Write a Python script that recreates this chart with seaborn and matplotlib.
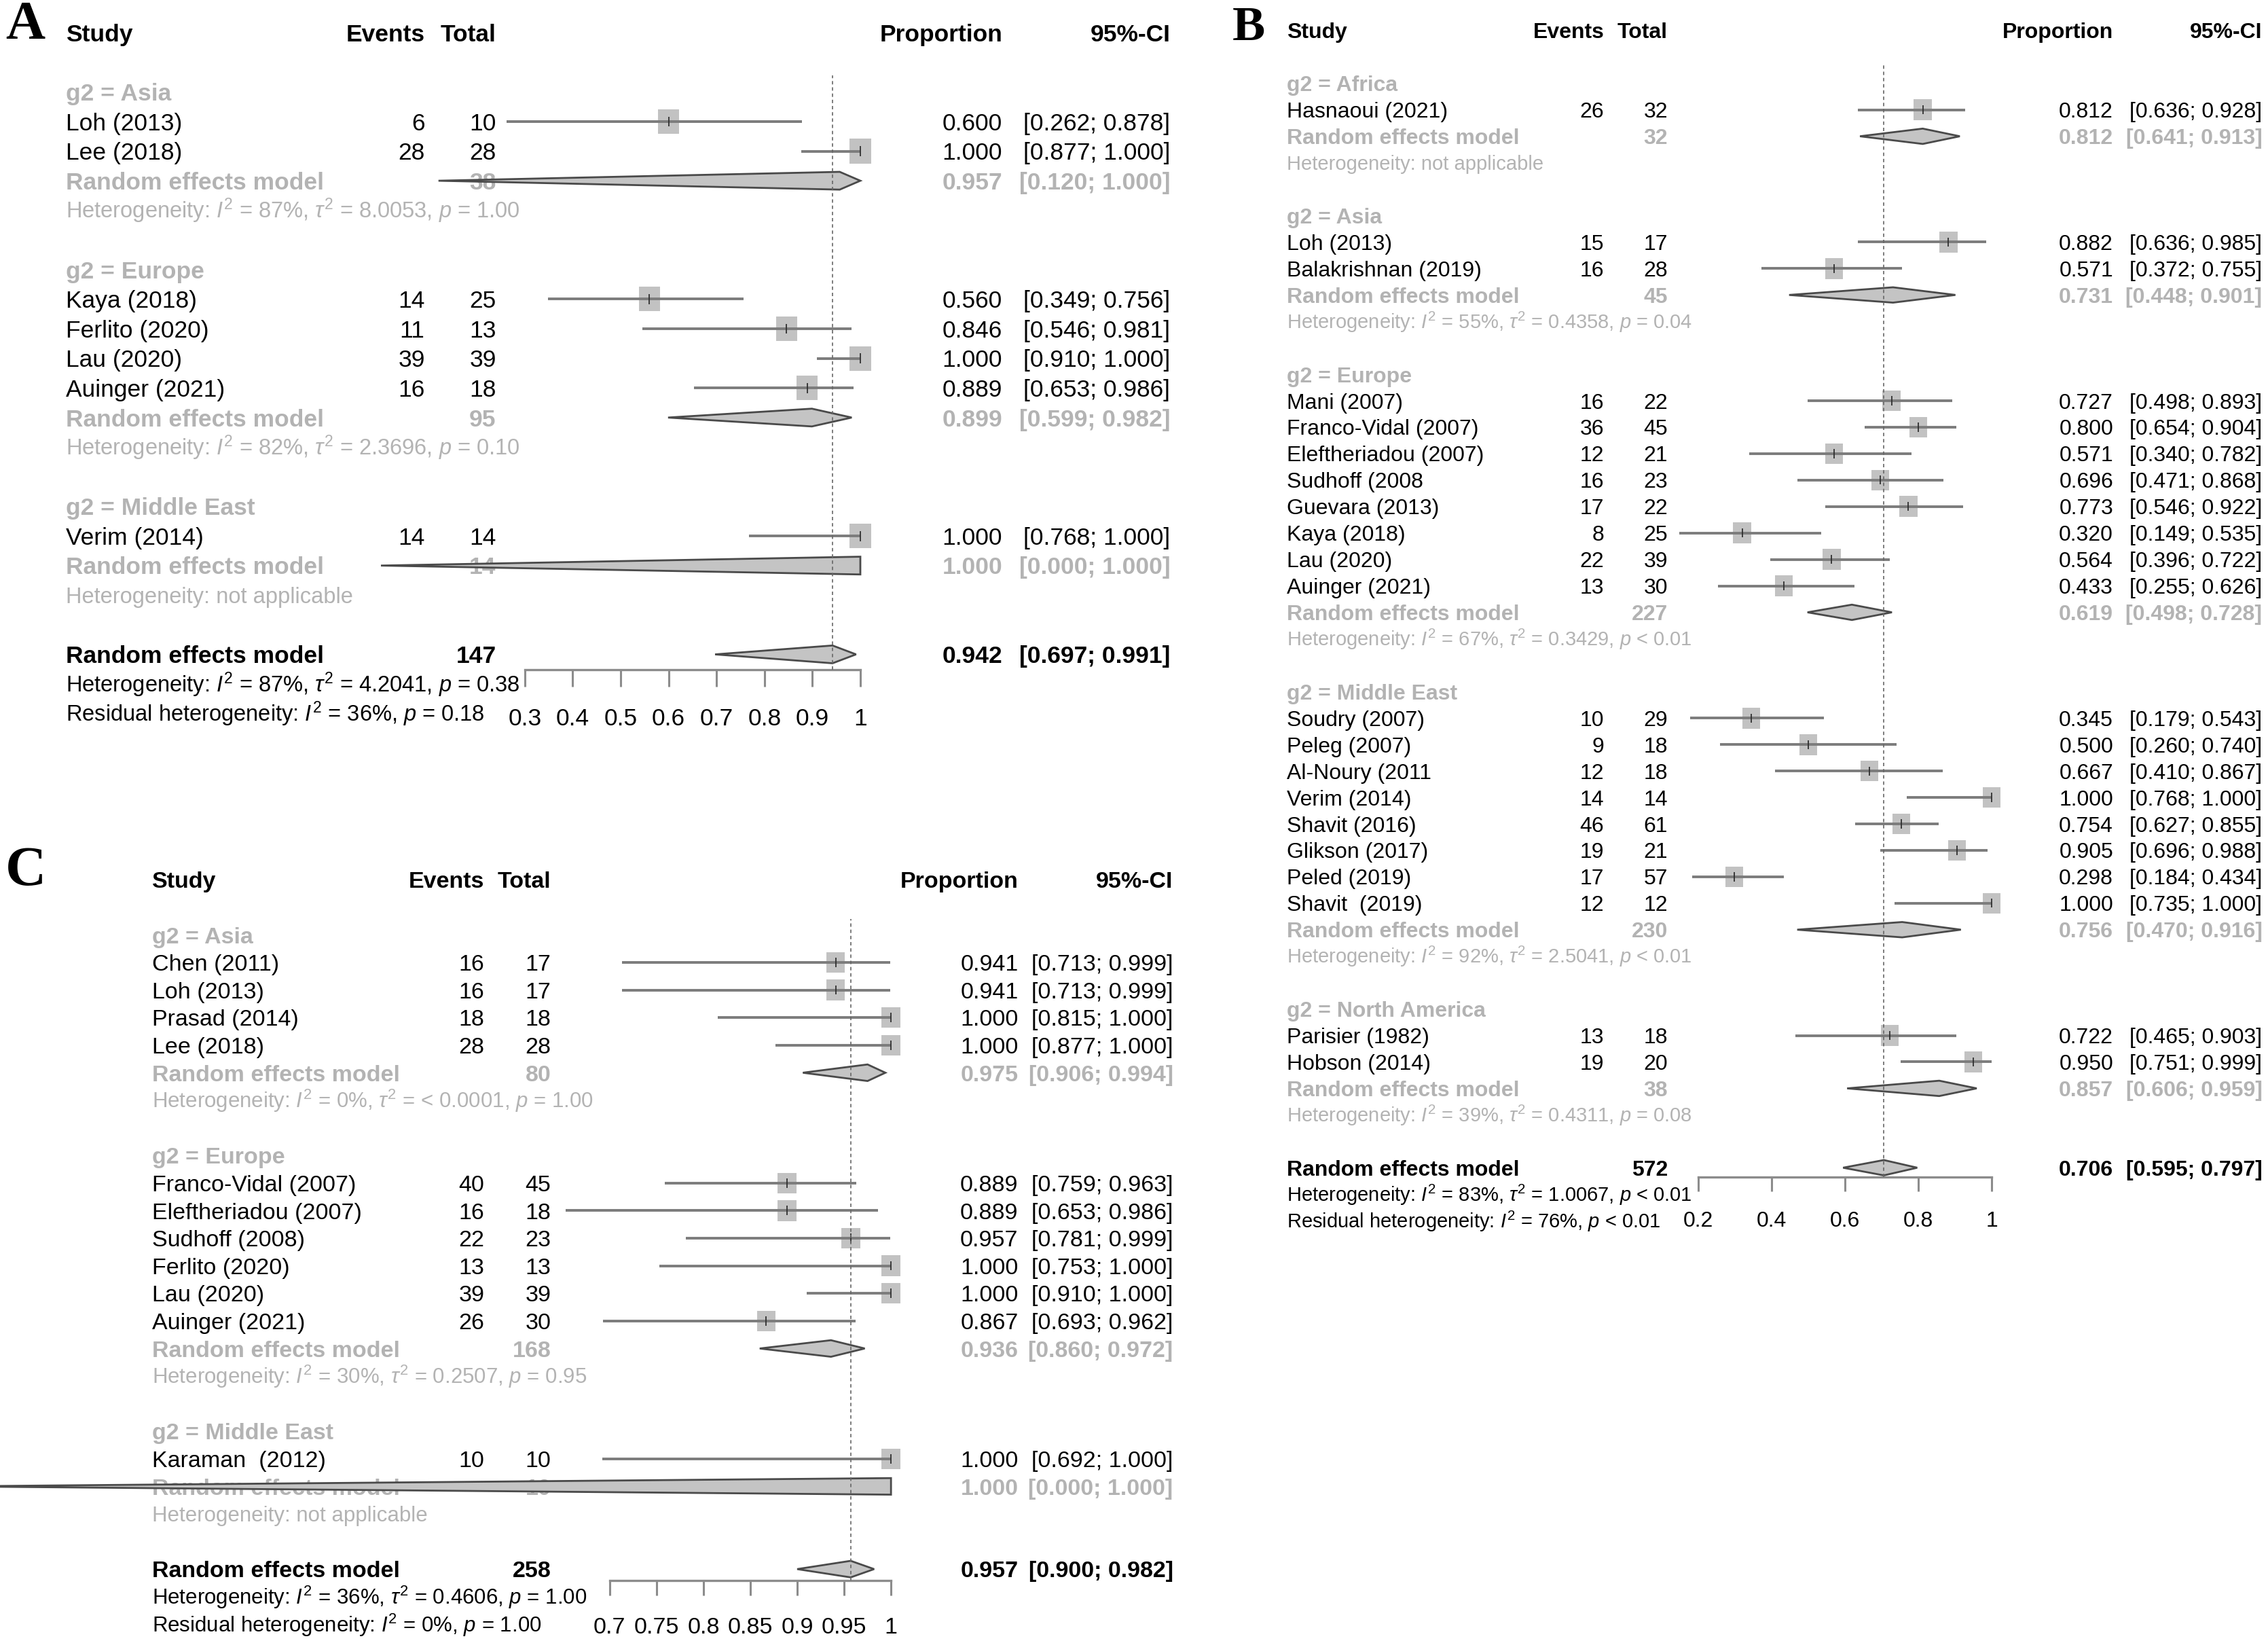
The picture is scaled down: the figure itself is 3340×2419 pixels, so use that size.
import numpy as np
import pandas as pd
import matplotlib
matplotlib.use("Agg")
import matplotlib.pyplot as plt
import seaborn as sns
from matplotlib import transforms
from matplotlib.patches import Polygon
from matplotlib.markers import MarkerStyle

# ====================== DATA: panel A ======================
A_groups = ["Asia", "Europe", "Middle East"]
A_study = ["Loh (2013)", "Lee (2018)", "Kaya (2018)", "Ferlito (2020)", "Lau (2020)",
           "Auinger (2021)", "Verim (2014)"]
A_group = ["Asia", "Asia", "Europe", "Europe", "Europe", "Europe", "Middle East"]
A_events = [6, 28, 14, 11, 39, 16, 14]
A_total = [10, 28, 25, 13, 39, 18, 14]
A_prop = [0.600, 1.000, 0.560, 0.846, 1.000, 0.889, 1.000]
A_lower = [0.262, 0.877, 0.349, 0.546, 0.910, 0.653, 0.768]
A_upper = [0.878, 1.000, 0.756, 0.981, 1.000, 0.986, 1.000]
A_sub_n = [38, 95, 14]
A_sub_prop = [0.957, 0.899, 1.000]
A_sub_lower = [0.120, 0.599, 0.000]
A_sub_upper = [1.000, 0.982, 1.000]
A_sub_het = ["$I^2$ = 87%, $\\tau^2$ = 8.0053, $p$ = 1.00",
             "$I^2$ = 82%, $\\tau^2$ = 2.3696, $p$ = 0.10",
             "not applicable"]
A_all_n = 147
A_all = [0.942, 0.697, 0.991]
A_het = "$I^2$ = 87%, $\\tau^2$ = 4.2041, $p$ = 0.38"
A_resid = "$I^2$ = 36%, $p$ = 0.18"
A_ticks = [0.3, 0.4, 0.5, 0.6, 0.7, 0.8, 0.9, 1.0]
A_ticklabels = ["0.3", "0.4", "0.5", "0.6", "0.7", "0.8", "0.9", "1"]

# ====================== DATA: panel B ======================
B_groups = ["Africa", "Asia", "Europe", "Middle East", "North America"]
B_study = ["Hasnaoui (2021)",
           "Loh (2013)", "Balakrishnan (2019)",
           "Mani (2007)", "Franco-Vidal (2007)", "Eleftheriadou (2007)", "Sudhoff (2008",
           "Guevara (2013)", "Kaya (2018)", "Lau (2020)", "Auinger (2021)",
           "Soudry (2007)", "Peleg (2007)", "Al-Noury (2011", "Verim (2014)",
           "Shavit (2016)", "Glikson (2017)", "Peled (2019)", "Shavit  (2019)",
           "Parisier (1982)", "Hobson (2014)"]
B_group = ["Africa", "Asia", "Asia"] + ["Europe"] * 8 + ["Middle East"] * 8 + ["North America"] * 2
B_events = [26, 15, 16, 16, 36, 12, 16, 17, 8, 22, 13, 10, 9, 12, 14, 46, 19, 17, 12, 13, 19]
B_total = [32, 17, 28, 22, 45, 21, 23, 22, 25, 39, 30, 29, 18, 18, 14, 61, 21, 57, 12, 18, 20]
B_prop = [0.812, 0.882, 0.571, 0.727, 0.800, 0.571, 0.696, 0.773, 0.320, 0.564, 0.433,
          0.345, 0.500, 0.667, 1.000, 0.754, 0.905, 0.298, 1.000, 0.722, 0.950]
B_lower = [0.636, 0.636, 0.372, 0.498, 0.654, 0.340, 0.471, 0.546, 0.149, 0.396, 0.255,
           0.179, 0.260, 0.410, 0.768, 0.627, 0.696, 0.184, 0.735, 0.465, 0.751]
B_upper = [0.928, 0.985, 0.755, 0.893, 0.904, 0.782, 0.868, 0.922, 0.535, 0.722, 0.626,
           0.543, 0.740, 0.867, 1.000, 0.855, 0.988, 0.434, 1.000, 0.903, 0.999]
B_sub_n = [32, 45, 227, 230, 38]
B_sub_prop = [0.812, 0.731, 0.619, 0.756, 0.857]
B_sub_lower = [0.641, 0.448, 0.498, 0.470, 0.606]
B_sub_upper = [0.913, 0.901, 0.728, 0.916, 0.959]
B_sub_het = ["not applicable",
             "$I^2$ = 55%, $\\tau^2$ = 0.4358, $p$ = 0.04",
             "$I^2$ = 67%, $\\tau^2$ = 0.3429, $p$ < 0.01",
             "$I^2$ = 92%, $\\tau^2$ = 2.5041, $p$ < 0.01",
             "$I^2$ = 39%, $\\tau^2$ = 0.4311, $p$ = 0.08"]
B_all_n = 572
B_all = [0.706, 0.595, 0.797]
B_het = "$I^2$ = 83%, $\\tau^2$ = 1.0067, $p$ < 0.01"
B_resid = "$I^2$ = 76%, $p$ < 0.01"
B_ticks = [0.2, 0.4, 0.6, 0.8, 1.0]
B_ticklabels = ["0.2", "0.4", "0.6", "0.8", "1"]

# ====================== DATA: panel C ======================
C_groups = ["Asia", "Europe", "Middle East"]
C_study = ["Chen (2011)", "Loh (2013)", "Prasad (2014)", "Lee (2018)",
           "Franco-Vidal (2007)", "Eleftheriadou (2007)", "Sudhoff (2008)", "Ferlito (2020)",
           "Lau (2020)", "Auinger (2021)", "Karaman  (2012)"]
C_group = ["Asia"] * 4 + ["Europe"] * 6 + ["Middle East"]
C_events = [16, 16, 18, 28, 40, 16, 22, 13, 39, 26, 10]
C_total = [17, 17, 18, 28, 45, 18, 23, 13, 39, 30, 10]
C_prop = [0.941, 0.941, 1.000, 1.000, 0.889, 0.889, 0.957, 1.000, 1.000, 0.867, 1.000]
C_lower = [0.713, 0.713, 0.815, 0.877, 0.759, 0.653, 0.781, 0.753, 0.910, 0.693, 0.692]
C_upper = [0.999, 0.999, 1.000, 1.000, 0.963, 0.986, 0.999, 1.000, 1.000, 0.962, 1.000]
C_sub_n = [80, 168, 10]
C_sub_prop = [0.975, 0.936, 1.000]
C_sub_lower = [0.906, 0.860, 0.000]
C_sub_upper = [0.994, 0.972, 1.000]
C_sub_het = ["$I^2$ = 0%, $\\tau^2$ = < 0.0001, $p$ = 1.00",
             "$I^2$ = 30%, $\\tau^2$ = 0.2507, $p$ = 0.95",
             "not applicable"]
C_all_n = 258
C_all = [0.957, 0.900, 0.982]
C_het = "$I^2$ = 36%, $\\tau^2$ = 0.4606, $p$ = 1.00"
C_resid = "$I^2$ = 0%, $p$ = 1.00"
C_ticks = [0.70, 0.75, 0.80, 0.85, 0.90, 0.95, 1.00]
C_ticklabels = ["0.7", "0.75", "0.8", "0.85", "0.9", "0.95", "1"]

# ====================== STYLE ======================
sns.set_theme(style="white")
plt.rcParams['font.family'] = ['Liberation Sans', 'DejaVu Sans']
plt.rcParams['mathtext.fontset'] = 'custom'
plt.rcParams['mathtext.rm'] = 'Liberation Sans'
plt.rcParams['mathtext.it'] = 'Liberation Sans:italic'
plt.rcParams['mathtext.bf'] = 'Liberation Sans:bold'

GRAY_TXT = '#b3b3b3'
SQ_COL = '#c2c2c2'
CI_COL = '#7c7c7c'
DIA_FILL = '#c4c4c4'
DIA_EDGE = '#4a4a4a'
AX_COL = '#8c8c8c'

W_REF, H_REF = 1568.0, 1135.0

fig = plt.figure(figsize=(33.4, 24.19), dpi=100)
fig.patch.set_facecolor('white')


def fx(x):
    return x / W_REF


def fy(y):
    return 1.0 - y / H_REF


def draw_panel(P, D):
    ax_l, ax_r = fx(P['ax_left']), fx(P['ax_right'])
    ax_b, ax_t = fy(P['ax_bottom']), fy(P['ax_top'])
    ax = fig.add_axes([ax_l, ax_b, ax_r - ax_l, ax_t - ax_b])
    ax.patch.set_alpha(0)

    blend = transforms.blended_transform_factory(fig.transFigure, ax.transData)

    def txt(x, r, s, ha='left', fs=None, color='black', weight='normal'):
        fs = fs or P['fs']
        tr = transforms.offset_copy(blend, fig=fig, x=0, y=-0.36 * fs, units='points')
        ax.text(fx(x), r, s, transform=tr, ha=ha, va='baseline', fontsize=fs,
                color=color, fontweight=weight, zorder=3, clip_on=False)

    # headers
    hr = -2
    txt(P['study_x'], hr, "Study", weight='bold')
    txt(P['ev_r'], hr, "Events", ha='right', weight='bold')
    txt(P['tot_r'], hr, "Total", ha='right', weight='bold')
    txt(P['prop_r'], hr, "Proportion", ha='right', weight='bold')
    txt(P['ci_r'], hr, "95%-CI", ha='right', weight='bold')

    # build row layout
    df = pd.DataFrame({'study': D['study'], 'group': D['group'], 'events': D['events'],
                       'total': D['total'], 'prop': D['prop'], 'lower': D['lower'],
                       'upper': D['upper']})
    df['row'] = np.nan
    sub_rows = []
    r = 0
    for gi, g in enumerate(D['groups']):
        txt(P['study_x'], r, "g2 = " + g, color=GRAY_TXT, weight='bold')
        r += 1
        for idx in df.index[df['group'] == g]:
            df.loc[idx, 'row'] = r
            r += 1
        sub_rows.append(r)
        r += 1
        txt(P['study_x'], r, "Heterogeneity: " + D['sub_het'][gi], fs=P['fs_het'], color=GRAY_TXT)
        r += 2
    overall_row = r

    # study texts
    for _, s in df.iterrows():
        txt(P['study_x'], s['row'], s['study'])
        txt(P['ev_r'], s['row'], str(s['events']), ha='right')
        txt(P['tot_r'], s['row'], str(s['total']), ha='right')
        txt(P['prop_r'], s['row'], f"{s['prop']:.3f}", ha='right')
        txt(P['ci_r'], s['row'], f"[{s['lower']:.3f}; {s['upper']:.3f}]", ha='right')

    # squares
    rt = P['sq_ratio']
    verts = [(-rt, -1), (rt, -1), (rt, 1), (-rt, 1), (-rt, -1)]
    sns.scatterplot(data=df, x='prop', y='row', marker=MarkerStyle(verts), s=P['sq'] ** 2,
                    color=SQ_COL, edgecolor='none', linewidth=0, ax=ax, legend=False,
                    zorder=2.5, clip_on=False)
    # CI lines + estimate tick
    ax.hlines(df['row'], df['lower'], df['upper'], colors=CI_COL, lw=2.8, zorder=3.5,
              clip_on=False)
    ax.vlines(df['prop'], df['row'] - 0.17, df['row'] + 0.17, colors='#303030', lw=1.3,
              zorder=3.6, clip_on=False)

    dh = P['dh']

    def diamond(row, est, lo, hi):
        poly = Polygon([(lo, row), (est, row - dh), (hi, row), (est, row + dh)], closed=True,
                       facecolor=DIA_FILL, edgecolor=DIA_EDGE, lw=2.0, zorder=4, clip_on=False)
        ax.add_patch(poly)

    # subgroup random-effects rows
    for gi, rr in enumerate(sub_rows):
        txt(P['study_x'], rr, "Random effects model", color=GRAY_TXT, weight='bold')
        txt(P['tot_r'], rr, str(D['sub_n'][gi]), ha='right', color=GRAY_TXT, weight='bold')
        txt(P['prop_r'], rr, f"{D['sub_prop'][gi]:.3f}", ha='right', color=GRAY_TXT, weight='bold')
        txt(P['ci_r'], rr, f"[{D['sub_lower'][gi]:.3f}; {D['sub_upper'][gi]:.3f}]", ha='right',
            color=GRAY_TXT, weight='bold')
        diamond(rr, D['sub_prop'][gi], D['sub_lower'][gi], D['sub_upper'][gi])

    # overall
    est, lo, hi = D['all']
    txt(P['study_x'], overall_row, "Random effects model", weight='bold')
    txt(P['tot_r'], overall_row, str(D['all_n']), ha='right', weight='bold')
    txt(P['prop_r'], overall_row, f"{est:.3f}", ha='right', weight='bold')
    txt(P['ci_r'], overall_row, f"[{lo:.3f}; {hi:.3f}]", ha='right', weight='bold')
    diamond(overall_row, est, lo, hi)
    txt(P['study_x'], overall_row + 1, "Heterogeneity: " + D['het'], fs=P['fs_het'])
    txt(P['study_x'], overall_row + 2, "Residual heterogeneity: " + D['resid'], fs=P['fs_het'])

    # reference line
    ax.axvline(est, color='#666666', lw=1.2, ls=(0, (3, 2.5)), zorder=5)

    # axes & limits
    ax.set_xlim(D['ticks'][0], D['ticks'][-1])
    ax.set_ylim((P['ax_bottom'] - P['row0']) / P['dy'], (P['ax_top'] - P['row0']) / P['dy'])
    ax.set_xticks(D['ticks'])
    ax.set_xticklabels(D['ticklabels'], fontsize=P['fs'])
    ax.set_yticks([])
    ax.set_xlabel('')
    ax.set_ylabel('')
    sns.despine(ax=ax, left=True, top=True, right=True)
    ax.spines['bottom'].set_color(AX_COL)
    ax.spines['bottom'].set_linewidth(2.4)
    ax.tick_params(axis='x', direction='out', length=P['tick_len'], width=2.2, color=AX_COL,
                   pad=P['tick_pad'], labelcolor='black', bottom=True)

    # panel letter
    fig.text(fx(P['letter_xy'][0]), fy(P['letter_xy'][1]), P['letter'],
             family=['Liberation Serif', 'DejaVu Serif'], fontweight='bold',
             fontsize=P['letter_fs'], ha='center', va='center', color='black')
    return ax


def pack(prefix):
    g = globals()
    return {k: g[prefix + '_' + k] for k in
            ['groups', 'study', 'group', 'events', 'total', 'prop', 'lower', 'upper',
             'sub_n', 'sub_prop', 'sub_lower', 'sub_upper', 'sub_het', 'all_n', 'all',
             'het', 'resid', 'ticks', 'ticklabels']}


PA = dict(row0=63.5, dy=20.45, ax_left=362.8, ax_right=594.8, ax_top=52, ax_bottom=462.4,
          study_x=45.5, ev_r=293.7, tot_r=343, prop_r=693, ci_r=809,
          fs=25.5, fs_het=23.5, sq=26, sq_ratio=0.86, dh=0.3, tick_len=18, tick_pad=23,
          letter='A', letter_xy=(17.5, 17.5), letter_fs=58)
PB = dict(row0=57.6, dy=18.27, ax_left=1174, ax_right=1377, ax_top=45, ax_bottom=813,
          study_x=889.7, ev_r=1109, tot_r=1153, prop_r=1461, ci_r=1564,
          fs=23, fs_het=21, sq=22, sq_ratio=0.86, dh=0.29, tick_len=15, tick_pad=21,
          letter='B', letter_xy=(863.5, 19.5), letter_fs=52)
PC = dict(row0=645.8, dy=19.05, ax_left=421.5, ax_right=616, ax_top=635, ax_bottom=1091.6,
          study_x=105, ev_r=335, tot_r=381, prop_r=704, ci_r=811,
          fs=24.5, fs_het=22.5, sq=22, sq_ratio=0.9, dh=0.3, tick_len=16, tick_pad=23.5,
          letter='C', letter_xy=(18, 602), letter_fs=60)

draw_panel(PA, pack('A'))
draw_panel(PB, pack('B'))
draw_panel(PC, pack('C'))

fig.savefig("out.png", dpi=100, facecolor='white')
